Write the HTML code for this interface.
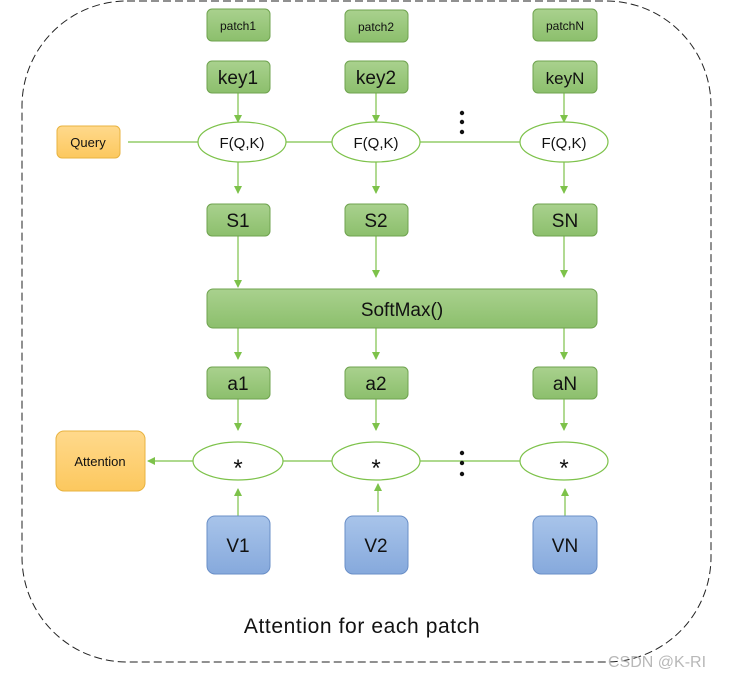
<!DOCTYPE html>
<html><head><meta charset="utf-8"><style>
html,body{margin:0;padding:0;background:#fff;}
svg{display:block;}
text{font-family:"Liberation Sans","DejaVu Sans",sans-serif;fill:#111;}
</style></head><body>
<svg width="730" height="678" viewBox="0 0 730 678" xmlns="http://www.w3.org/2000/svg">
<defs>
<linearGradient id="g" x1="0" y1="0" x2="0" y2="1"><stop offset="0" stop-color="#a9d18e"/><stop offset="1" stop-color="#8cbf6c"/></linearGradient>
<linearGradient id="b" x1="0" y1="0" x2="0" y2="1"><stop offset="0" stop-color="#a8c4ea"/><stop offset="1" stop-color="#86a9dc"/></linearGradient>
<linearGradient id="o" x1="0" y1="0" x2="0" y2="1"><stop offset="0" stop-color="#ffd98c"/><stop offset="1" stop-color="#fcc85e"/></linearGradient>
<marker id="a" markerWidth="8" markerHeight="8" refX="7" refY="4" orient="auto" markerUnits="userSpaceOnUse"><path d="M0,0 L8,4 L0,8 z" fill="#7dc24a"/></marker>
</defs>
<rect x="22" y="1" width="689" height="661" rx="105" ry="105" fill="none" stroke="#222" stroke-width="1" stroke-dasharray="8,4"/>

<g stroke="#7dc24a" stroke-width="1.2" fill="none">
<line x1="128" y1="142" x2="198" y2="142"/>
<line x1="286" y1="142" x2="332" y2="142"/>
<line x1="420" y1="142" x2="520" y2="142"/>
<line x1="332" y1="461" x2="283" y2="461"/>
<line x1="420" y1="461" x2="520" y2="461"/>
<line x1="194" y1="461" x2="148" y2="461" marker-end="url(#a)"/>
<line x1="238" y1="93" x2="238" y2="122" marker-end="url(#a)"/>
<line x1="376" y1="93" x2="376" y2="122" marker-end="url(#a)"/>
<line x1="564" y1="93" x2="564" y2="122" marker-end="url(#a)"/>
<line x1="238" y1="162" x2="238" y2="193" marker-end="url(#a)"/>
<line x1="376" y1="162" x2="376" y2="193" marker-end="url(#a)"/>
<line x1="564" y1="162" x2="564" y2="193" marker-end="url(#a)"/>
<line x1="238" y1="236" x2="238" y2="287" marker-end="url(#a)"/>
<line x1="376" y1="236" x2="376" y2="277" marker-end="url(#a)"/>
<line x1="564" y1="236" x2="564" y2="277" marker-end="url(#a)"/>
<line x1="238" y1="328" x2="238" y2="359" marker-end="url(#a)"/>
<line x1="376" y1="328" x2="376" y2="359" marker-end="url(#a)"/>
<line x1="564" y1="328" x2="564" y2="359" marker-end="url(#a)"/>
<line x1="238" y1="399" x2="238" y2="430" marker-end="url(#a)"/>
<line x1="376" y1="399" x2="376" y2="430" marker-end="url(#a)"/>
<line x1="564" y1="399" x2="564" y2="430" marker-end="url(#a)"/>
<line x1="238" y1="516" x2="238" y2="489" marker-end="url(#a)"/>
<line x1="378" y1="512" x2="378" y2="484" marker-end="url(#a)"/>
<line x1="565" y1="516" x2="565" y2="489" marker-end="url(#a)"/>
</g>

<g stroke="#6fa34f" stroke-width="1" fill="url(#g)">
<rect x="207" y="9" width="63" height="32" rx="5"/>
<rect x="345" y="10" width="63" height="32" rx="5"/>
<rect x="533" y="9" width="64" height="32" rx="5"/>
<rect x="207" y="61" width="63" height="32" rx="5"/>
<rect x="345" y="61" width="63" height="32" rx="5"/>
<rect x="533" y="61" width="64" height="32" rx="5"/>
<rect x="207" y="204" width="63" height="32" rx="5"/>
<rect x="345" y="204" width="63" height="32" rx="5"/>
<rect x="533" y="204" width="64" height="32" rx="5"/>
<rect x="207" y="289" width="390" height="39" rx="6"/>
<rect x="207" y="367" width="63" height="32" rx="5"/>
<rect x="345" y="367" width="63" height="32" rx="5"/>
<rect x="533" y="367" width="64" height="32" rx="5"/>
</g>
<g stroke="#6a8fc7" stroke-width="1" fill="url(#b)">
<rect x="207" y="516" width="63" height="58" rx="8"/>
<rect x="345" y="516" width="63" height="58" rx="8"/>
<rect x="533" y="516" width="64" height="58" rx="8"/>
</g>
<g stroke="#e8b340" stroke-width="1" fill="url(#o)">
<rect x="57" y="126" width="63" height="32" rx="5"/>
<rect x="56" y="431" width="89" height="60" rx="8"/>
</g>
<g stroke="#7dc24a" stroke-width="1.2" fill="#fff">
<ellipse cx="242" cy="142" rx="44" ry="20"/>
<ellipse cx="376" cy="142" rx="44" ry="20"/>
<ellipse cx="564" cy="142" rx="44" ry="20"/>
<ellipse cx="238" cy="461" rx="45" ry="19"/>
<ellipse cx="376" cy="461" rx="44" ry="19"/>
<ellipse cx="564" cy="461" rx="44" ry="19"/>
</g>
<g fill="#111">
<circle cx="462" cy="113" r="2.2"/><circle cx="462" cy="122" r="2.2"/><circle cx="462" cy="132" r="2.2"/>
<circle cx="462" cy="453" r="2.2"/><circle cx="462" cy="463" r="2.2"/><circle cx="462" cy="474" r="2.2"/>
</g>

<g text-anchor="middle">
<text x="238" y="30" font-size="12">patch1</text>
<text x="376" y="31" font-size="12">patch2</text>
<text x="565" y="30" font-size="12">patchN</text>
<text x="238" y="84" font-size="19">key1</text>
<text x="376" y="84" font-size="19">key2</text>
<text x="565" y="84" font-size="17">keyN</text>
<text x="242" y="148" font-size="15">F(Q,K)</text>
<text x="376" y="148" font-size="15">F(Q,K)</text>
<text x="564" y="148" font-size="15">F(Q,K)</text>
<text x="238" y="227" font-size="19">S1</text>
<text x="376" y="227" font-size="19">S2</text>
<text x="565" y="227" font-size="19">SN</text>
<text x="402" y="316" font-size="19">SoftMax()</text>
<text x="238" y="390" font-size="19">a1</text>
<text x="376" y="390" font-size="19">a2</text>
<text x="565" y="390" font-size="19">aN</text>
<text x="238" y="476" font-size="24">*</text>
<text x="376" y="476" font-size="24">*</text>
<text x="564" y="476" font-size="24">*</text>
<text x="238" y="552" font-size="19">V1</text>
<text x="376" y="552" font-size="19">V2</text>
<text x="565" y="552" font-size="19">VN</text>
<text x="88" y="147" font-size="13">Query</text>
<text x="100" y="466" font-size="13">Attention</text>
<text x="362" y="633" font-size="21" letter-spacing="0.6">Attention for each patch</text>
</g>
<text x="608" y="667" font-size="16" style="fill:#b8b8b8">CSDN @K-RI</text>
</svg>
</body></html>
